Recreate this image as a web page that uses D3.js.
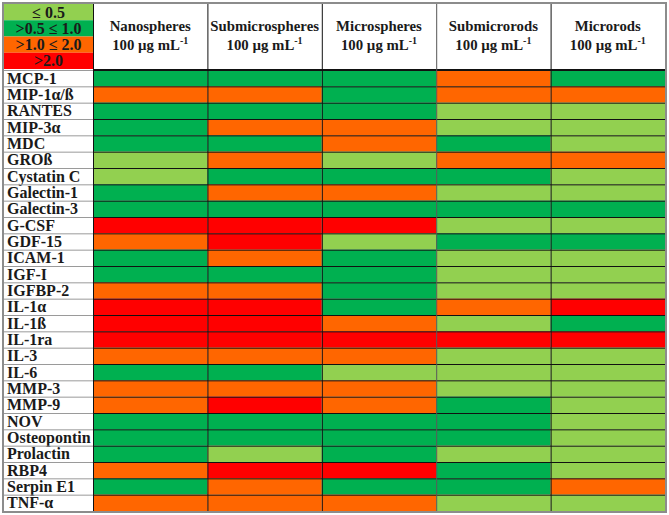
<!DOCTYPE html>
<html>
<head>
<meta charset="utf-8">
<script src="https://cdn.jsdelivr.net/npm/d3@7"></script>
<style>
html,body{margin:0;padding:0;background:#fff;}
svg{display:block;}
text{font-family:"Liberation Serif","Times New Roman",serif;font-weight:bold;fill:#1a1a1a;}
</style>
</head>
<body>
<svg id="chart" width="669" height="515"></svg>
<script>
// Categories (columns)
const columns = ["Nanospheres", "Submicrospheres", "Microspheres", "Submicrorods", "Microrods"];
const dose = "100 µg mL";
// Legend classes (fold-change bins)
const legendLabels = ["≤ 0.5", ">0.5 ≤ 1.0", ">1.0 ≤ 2.0", ">2.0"];
// Proteins (rows)
const proteins = ["MCP-1","MIP-1α/ß","RANTES","MIP-3α","MDC","GROß","Cystatin C","Galectin-1","Galectin-3",
  "G-CSF","GDF-15","ICAM-1","IGF-I","IGFBP-2","IL-1α","IL-1ß","IL-1ra","IL-3",
  "IL-6","MMP-3","MMP-9","NOV","Osteopontin","Prolactin","RBP4","Serpin E1","TNF-α"];
// Class index per protein for each column: 0 = ≤0.5, 1 = >0.5≤1.0, 2 = >1.0≤2.0, 3 = >2.0
const nanospheres     = [1,2,1,1,1,0,0,1,1, 3,2,1,1,2,3,3,3,2, 1,2,2,1,1,1,2,1,2];
const submicrospheres = [1,2,1,2,1,2,1,2,1, 3,3,2,1,2,3,3,3,2, 1,2,3,1,1,0,3,2,2];
const microspheres    = [1,1,1,2,2,0,1,2,1, 3,0,1,1,1,1,2,3,2, 0,2,2,1,1,1,3,1,2];
const submicrorods    = [2,2,0,0,1,2,1,0,1, 0,1,0,0,0,2,0,3,0, 0,0,1,1,1,0,1,1,0];
const microrods       = [1,2,0,0,0,2,0,0,1, 0,1,0,0,0,3,1,3,0, 0,0,0,0,0,0,0,2,0];
const series = [nanospheres, submicrospheres, microspheres, submicrorods, microrods];

const classColors = ["#92D050", "#00B050", "#FF6600", "#FF0000"];

const svg = d3.select("#chart");
const L = 4, labelW = 89, R = 665, T = 4, headerBottom = 70, B = 511;

const x = d3.scaleBand().domain(columns).range([L + labelW, R]);
const y = d3.scaleBand().domain(proteins).range([headerBottom, B]);
const color = d3.scaleOrdinal().domain([0,1,2,3]).range(classColors);
const legendY = d3.scaleBand().domain(legendLabels).range([T, headerBottom - 1]);

// background
svg.append("rect").attr("x",0).attr("y",0).attr("width",669).attr("height",515).attr("fill","#fff");

// cells
const cells = [];
columns.forEach((c, ci) => proteins.forEach((p, pi) => cells.push({c, p, v: series[ci][pi]})));
svg.append("g").selectAll("rect").data(cells).join("rect")
  .attr("x", d => x(d.c)).attr("y", d => y(d.p))
  .attr("width", x.bandwidth()).attr("height", y.bandwidth())
  .attr("fill", d => color(d.v));

// legend
const lg = svg.append("g");
lg.selectAll("rect").data(legendLabels).join("rect")
  .attr("x", L).attr("y", d => legendY(d))
  .attr("width", labelW).attr("height", legendY.bandwidth())
  .attr("fill", (d,i) => classColors[i]);
lg.selectAll("text").data(legendLabels).join("text")
  .attr("x", L + labelW/2).attr("y", d => legendY(d) + legendY.bandwidth()/2 + 5.5)
  .attr("text-anchor","middle").attr("font-size", 16)
  .text(d => d);

// header text
const hg = svg.append("g");
columns.forEach(c => {
  const cx = x(c) + x.bandwidth()/2;
  hg.append("text").attr("x", cx).attr("y", 31).attr("text-anchor","middle")
    .attr("font-size", 14.8).text(c);
  const t = hg.append("text").attr("x", cx).attr("y", 50).attr("text-anchor","middle")
    .attr("font-size", 14.8);
  t.append("tspan").text(dose);
  t.append("tspan").attr("font-size", 10).attr("dy", -6).text("-1");
});

// row labels
svg.append("g").selectAll("text").data(proteins).join("text")
  .attr("x", L + 3).attr("y", d => y(d) + y.bandwidth()/2 + 5.5)
  .attr("font-size", 16).text(d => d);

// grid lines
const grid = svg.append("g");
proteins.forEach(p => {
  grid.append("line").attr("x1", L).attr("x2", L + labelW)
    .attr("y1", y(p) + 0.5).attr("y2", y(p) + 0.5)
    .attr("stroke", "#9a9a9a").attr("stroke-width", 1);
});
proteins.forEach(p => {
  grid.append("line").attr("x1", L + labelW).attr("x2", R)
    .attr("y1", y(p) + 0.5).attr("y2", y(p) + 0.5)
    .attr("stroke", "#111").attr("stroke-width", 1);
});
grid.append("line").attr("x1", L + labelW).attr("x2", R)
  .attr("y1", headerBottom - 0.5).attr("y2", headerBottom - 0.5)
  .attr("stroke", "#111").attr("stroke-width", 1.2);
columns.forEach((c, i) => {
  grid.append("line").attr("x1", x(c) + 0.5).attr("x2", x(c) + 0.5)
    .attr("y1", T).attr("y2", B)
    .attr("stroke", i === 3 ? "#555" : "#111").attr("stroke-width", 1);
});
grid.append("rect").attr("x", L - 1).attr("y", T - 1)
  .attr("width", R - L + 2).attr("height", B - T + 2)
  .attr("fill","none").attr("stroke","#8c8c8c").attr("stroke-width", 2);
</script>
</body>
</html>
